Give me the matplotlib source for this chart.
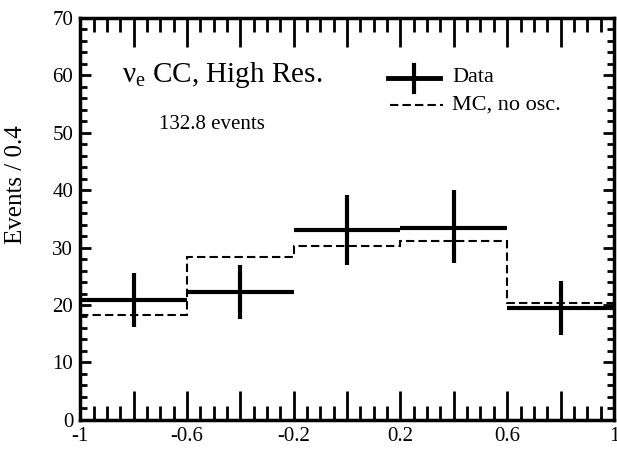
import numpy as np
import matplotlib
matplotlib.use('Agg')
import matplotlib.pyplot as plt
from matplotlib.ticker import MultipleLocator, FuncFormatter

plt.rcParams['font.family'] = ['Liberation Serif', 'DejaVu Serif']
plt.rcParams['mathtext.fontset'] = 'custom'
plt.rcParams['mathtext.rm'] = 'Liberation Serif'
plt.rcParams['mathtext.it'] = 'Liberation Serif:italic'

# bin edges in cos(theta)
bin_edges = [-1.0, -0.6, -0.2, 0.2, 0.6, 1.0]
# data points (events / 0.4) with error bar ends
data_vals = [20.9, 22.3, 33.0, 33.4, 19.4]
data_lo = [16.2, 17.6, 27.0, 27.3, 14.7]
data_hi = [25.5, 27.0, 39.2, 40.0, 24.2]
# MC, no oscillation
mc_vals = [18.2, 28.4, 30.3, 31.1, 20.4]
x_labels = {-1.0: '-1', -0.6: '-0.6', -0.2: '-0.2', 0.2: '0.2', 0.6: '0.6', 1.0: '1'}

edges = np.array(bin_edges)
centers = (edges[:-1] + edges[1:]) / 2
halfw = (edges[1:] - edges[:-1]) / 2
dv = np.array(data_vals)
yerr = [dv - np.array(data_lo), np.array(data_hi) - dv]

fig = plt.figure(figsize=(6.17, 4.49), dpi=100)
ax = fig.add_axes([0.13, 0.065, 0.865, 0.895])

# MC histogram (dashed step)
ax.stairs(mc_vals, edges, color='black', lw=1.5, linestyle=(0, (4, 2)), baseline=None)

# data crosses
ax.errorbar(centers, dv, xerr=halfw, yerr=yerr, fmt='none', ecolor='black',
            elinewidth=3, capsize=0)

ax.set_xlim(-1, 1)
ax.set_ylim(0, 70)

def xfmt(v, pos):
    return x_labels.get(round(v, 1), '')

ax.xaxis.set_major_locator(MultipleLocator(0.2))
ax.xaxis.set_major_formatter(FuncFormatter(xfmt))
ax.xaxis.set_minor_locator(MultipleLocator(0.05))
ax.yaxis.set_major_locator(MultipleLocator(10))
ax.yaxis.set_minor_locator(MultipleLocator(2))

ax.tick_params(which='both', direction='in', top=True, right=True, width=2, labelsize=15)
ax.tick_params(axis='x', which='major', length=21, pad=5)
ax.tick_params(axis='x', which='minor', length=10)
ax.tick_params(axis='y', which='major', length=8, pad=5)
ax.tick_params(axis='y', which='minor', length=5)

for s in ax.spines.values():
    s.set_linewidth(2.5)

ax.set_ylabel('Events / 0.4', fontsize=18)
ax.yaxis.set_label_coords(-0.1, 0.585)

ax.text(0.078, 0.858, 'ν$_\\mathrm{e}$ CC, High Res.', transform=ax.transAxes,
        fontsize=21, va='center', ha='left')
ax.text(0.147, 0.735, '132.8 events', transform=ax.transAxes,
        fontsize=15, va='center', ha='left')

# legend drawn by hand
ax.plot([0.577, 0.674], [0.851, 0.851], transform=ax.transAxes, color='black', lw=3.5)
ax.plot([0.625, 0.625], [0.816, 0.884], transform=ax.transAxes, color='black', lw=3)
ax.text(0.697, 0.851, 'Data', transform=ax.transAxes, fontsize=16, va='center', ha='left')
ax.plot([0.58, 0.68], [0.784, 0.784], transform=ax.transAxes, color='black', lw=1.5,
        linestyle=(0, (4, 2)))
ax.text(0.697, 0.784, 'MC, no osc.', transform=ax.transAxes, fontsize=16, va='center', ha='left')

fig.savefig('out.png', dpi=100)
